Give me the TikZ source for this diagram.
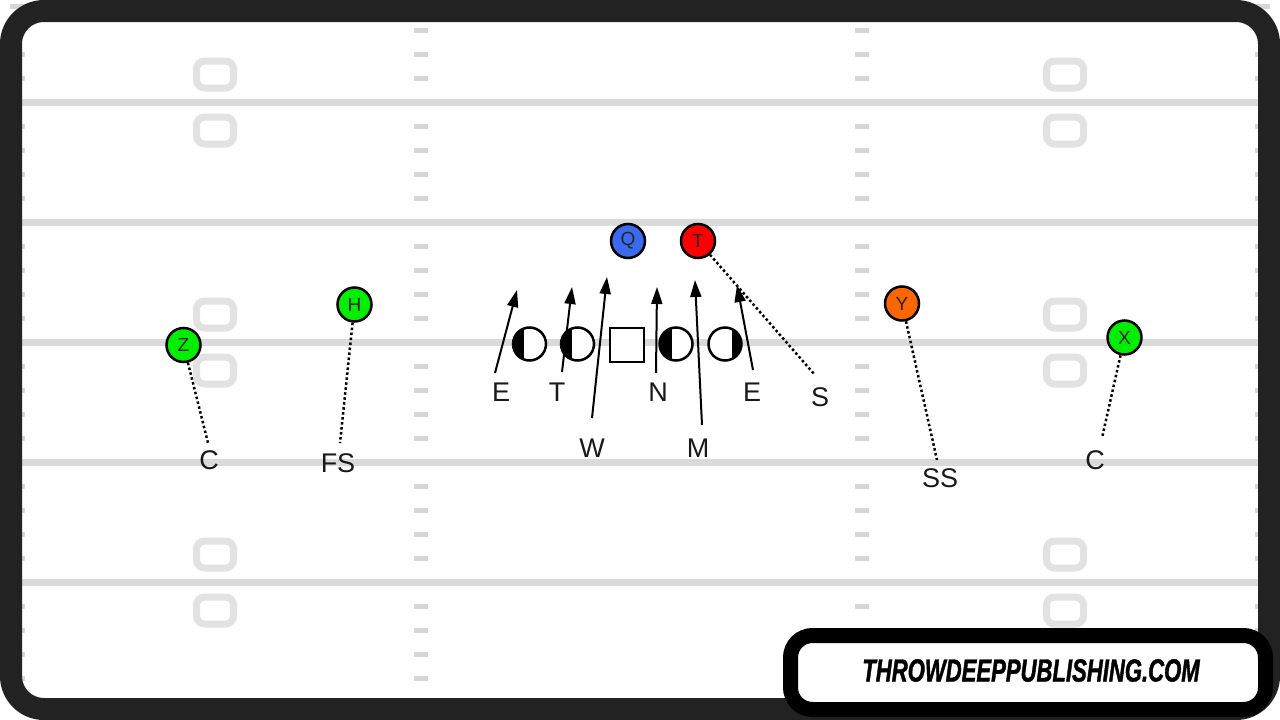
\documentclass[tikz,border=0pt]{standalone}
\usepackage{fontspec}
\setmainfont{Liberation Sans}
\newfontfamily\wmfont[UprightFont=* Bold Italic, FakeBold=1.2, FakeStretch=0.69]{Liberation Sans}
\usetikzlibrary{arrows.meta}
\definecolor{framec}{HTML}{222222}
\definecolor{fieldline}{HTML}{DADADA}
\definecolor{hashc}{HTML}{D6D6D6}
\definecolor{numc}{HTML}{E2E2E2}
\definecolor{qblue}{HTML}{3A6AF0}
\definecolor{tred}{HTML}{FF0000}
\definecolor{pgreen}{HTML}{00EE00}
\definecolor{yorange}{HTML}{FF6600}
\tikzset{
  player/.style={circle, draw=black, line width=2.5pt, minimum size=34pt, inner sep=0pt,
    font=\fontsize{19}{19}\selectfont, text=black!85},
  lineman/.style={circle, draw=black, fill=white, line width=2.5pt, minimum size=33pt, inner sep=0pt},
  centerbox/.style={rectangle, draw=black, fill=white, line width=2.5pt, minimum size=34pt, inner sep=0pt},
  leftdark/.style={path picture={\fill[black] (path picture bounding box.south west) rectangle ([xshift=#1]path picture bounding box.north);}},
  rightdark/.style={path picture={\fill[black] ([xshift=#1]path picture bounding box.south) rectangle (path picture bounding box.north east);}},
  lbl/.style={font=\fontsize{27}{27}\selectfont, inner sep=0pt, text=black!90},
  rush/.style={line width=2pt, -{Triangle[length=17pt,width=11pt]}},
  cover/.style={line width=2.5pt, dash pattern=on 2.5pt off 2.5pt},
  fieldln/.style={line width=7pt, draw=fieldline},
  hashmark/.style={fill=hashc},
  numbox/.style={draw=numc, line width=7pt, rounded corners=8pt},
}
\begin{document}
\begin{tikzpicture}[x=1pt,y=-1pt]
\useasboundingbox (0,0) rectangle (1280,720);
\fill[white] (0,0) rectangle (1280,720);
% field lines
\foreach \yy in {102.5,222.5,342.5,462.5,582.5}
  \draw[fieldln] (0,\yy) -- (1280,\yy);
% hash marks
\foreach \k in {0,...,5}
  \foreach \m in {1,2,3,4} {
    \pgfmathsetmacro{\hy}{-17.5+120*\k+24*\m}
    \fill[hashmark] (414,\hy-2.5) rectangle (428,\hy+2.5);
    \fill[hashmark] (855,\hy-2.5) rectangle (869,\hy+2.5);
    \fill[hashmark] (10,\hy-2.5) rectangle (25,\hy+2.5);
    \fill[hashmark] (1255,\hy-2.5) rectangle (1270,\hy+2.5);
  }
% yard number boxes
\foreach \nx in {215,1065}
  \foreach \ny in {74.5,130.5,314.5,370.5,554.5,610.5}
    \draw[numbox] (\nx-18.5,\ny-13.5) rectangle (\nx+18.5,\ny+13.5);
% frame
\draw[framec, line width=22pt, rounded corners=33pt] (11,11) rectangle (1269,709);

% offensive players
\node[player, fill=qblue] (Q) at (628,241) {Q};
\node[player, fill=tred] (T) at (698,241) {T};
\node[player, fill=pgreen] (H) at (354.5,304.5) {H};
\node[player, fill=pgreen] (Z) at (183.5,345) {Z};
\node[player, fill=yorange] (Y) at (902,303.5) {Y};
\node[player, fill=pgreen] (X) at (1124.5,337.5) {X};

% line
\node[lineman, leftdark=-6pt] (L1) at (529.5,344) {};
\node[lineman, leftdark=-5.5pt] (L2) at (577.5,344) {};
\node[centerbox] (C0) at (627,345) {};
\node[lineman, leftdark=-4pt] (L3) at (676,344) {};
\node[lineman, rightdark=7pt] (L4) at (725,344) {};

% defensive labels
\node[lbl] (dE1) at (501,392) {E};
\node[lbl] (dT) at (557,392) {T};
\node[lbl] (dN) at (658,392) {N};
\node[lbl] (dE2) at (752,392) {E};
\node[lbl] (dS) at (820,397) {S};
\node[lbl] (dW) at (592,448) {W};
\node[lbl] (dM) at (698,448) {M};
\node[lbl] (dC1) at (209,460) {C};
\node[lbl] (dFS) at (338,463) {FS};
\node[lbl] (dSS) at (940,478) {SS};
\node[lbl] (dC2) at (1095,460) {C};

% rush arrows
\coordinate (e1a) at (495,373); \coordinate (e1b) at (517,290);
\coordinate (ta) at (562,372);  \coordinate (tb) at (572,287);
\coordinate (wa) at (592,418);  \coordinate (wb) at (607,277);
\coordinate (na) at (656,373);  \coordinate (nb) at (657,287);
\coordinate (ma) at (702,425);  \coordinate (mb) at (695,280);
\coordinate (e2a) at (753,370); \coordinate (e2b) at (737,285);
\draw[rush] (e1a) -- (e1b);
\draw[rush] (ta) -- (tb);
\draw[rush] (wa) -- (wb);
\draw[rush] (na) -- (nb);
\draw[rush] (ma) -- (mb);
\draw[rush] (e2a) -- (e2b);

% coverage lines
\coordinate (zc) at (208,443);
\coordinate (hc) at (340,443);
\coordinate (yc) at (937,460);
\coordinate (xc) at (1102,438);
\coordinate (tc) at (815,375);
\draw[cover] (Z) -- (zc);
\draw[cover] (H) -- (hc);
\draw[cover] (Y) -- (yc);
\draw[cover] (X) -- (xc);
\draw[cover] (T) -- (tc);

% watermark
\draw[black, fill=white, line width=15pt, rounded corners=22pt] (790.5,635.5) rectangle (1265.5,709.5);
\node[inner sep=0pt, font=\wmfont\fontsize{32}{32}\selectfont] (wm) at (1031,670.5)
  {THROWDEEPPUBLISHING.COM};
\end{tikzpicture}
\end{document}
